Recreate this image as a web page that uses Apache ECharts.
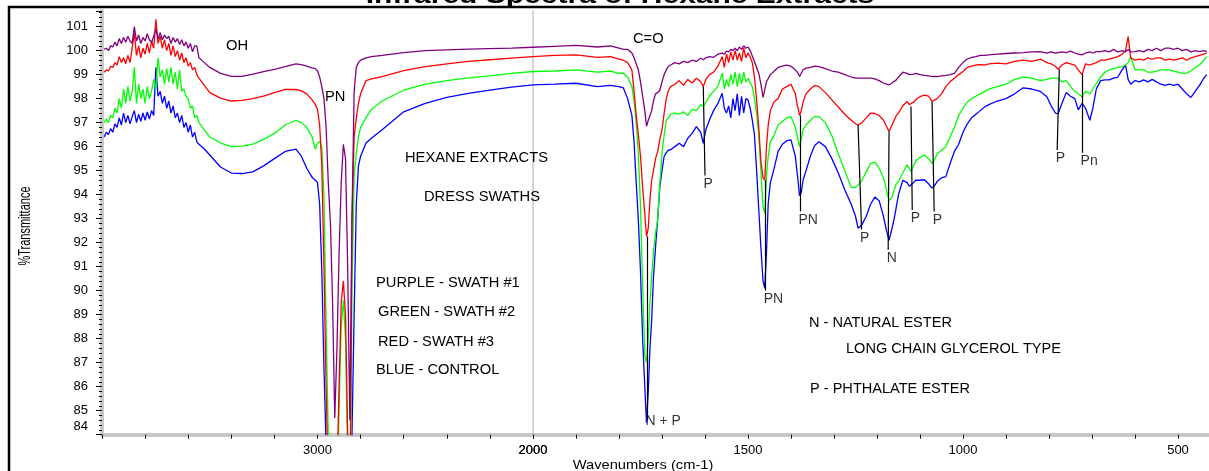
<!DOCTYPE html>
<html><head><meta charset="utf-8">
<script src="https://cdn.jsdelivr.net/npm/echarts@6/dist/echarts.min.js"></script>
<style>html,body{margin:0;padding:0;background:#fff}#c{width:1209px;height:471px}</style>
</head><body><div id="c"></div>
<script>
// ---------- DATA ----------
// Region A: noisy high-wavenumber end (cm-1)
const wnA = [3990,3980,3970,3960,3950,3940,3930,3920,3910,3900,
  3890,3880,3870,3860,3850,3840,3830,3820,3810,3800,
  3790,3780,3770,3760,3750,3740,3730,3720,3710,3700,
  3690,3680,3670,3660,3650,3640,3630,3620,3610,3600,
  3590,3580,3570,3560];
const purpleA = [100.05,100.1,100.0,100.2,100.15,100.35,100.2,100.5,100.3,100.55,
  100.35,100.6,100.4,100.3,101.0,100.4,100.65,100.3,100.55,100.4,
  100.7,100.45,100.35,100.6,100.9,100.5,100.75,100.45,100.65,100.5,
  100.6,100.3,100.55,100.35,100.5,100.25,100.45,100.2,100.35,100.1,
  100.3,99.95,100.2,100.2];
const redA = [99.1,99.2,99.15,99.35,99.3,99.5,99.4,99.75,99.5,99.7,
  99.45,99.8,99.5,100.1,100.75,99.8,100.2,99.7,100.1,99.85,
  100.3,99.9,100.4,100.1,101.3,100.3,100.6,100.1,100.45,100.0,
  100.3,99.8,100.2,99.75,100.0,99.6,99.9,99.5,99.7,99.35,
  99.5,99.2,99.3,99.0];
const greenA = [97.0,97.15,97.0,97.3,97.2,97.6,97.4,98.0,97.6,98.4,
  97.8,98.5,97.9,98.3,99.3,97.8,98.6,98.0,98.4,97.8,
  98.5,98.0,98.3,98.8,98.4,99.7,98.9,99.2,98.6,99.25,
  98.7,99.3,98.6,99.1,98.4,99.2,98.3,98.4,98.1,98.0,
  97.6,97.7,97.2,97.3];
const blueA = [96.4,96.6,96.5,96.75,96.6,96.95,96.8,97.2,96.9,97.4,
  97.0,97.3,96.95,97.25,97.5,97.0,97.35,97.05,97.4,97.1,
  97.45,97.15,97.5,97.3,99.3,98.1,98.3,97.8,98.1,97.6,
  97.9,97.4,97.7,97.2,97.4,97.0,97.3,96.8,97.0,96.6,
  96.9,96.4,96.6,96.2];

// Region B: OH band, C-H stretches, down to 2000 cm-1
const wnB = [3550,3525,3500,3450,3400,3350,3300,3250,3200,3150,
  3100,3075,3050,3025,3010,3000,2990,2980,2970,2960,
  2950,2940,2930,2920,2910,2900,2890,2880,2870,2860,
  2850,2840,2830,2820,2810,2800,2775,2750,2700,2600,
  2500,2400,2300,2200,2100,2000];
const purpleB = [99.7,99.5,99.3,99.05,98.93,98.93,99.02,99.12,99.22,99.33,
  99.45,99.42,99.35,99.28,99.25,99.15,98.9,98.5,98.0,96.8,
  94.5,92.8,89.5,84.7,87.5,91.5,94.5,96.1,95.5,91.0,
  84.6,93.0,98.3,99.3,99.5,99.6,99.7,99.75,99.8,99.92,
  100.0,100.03,100.06,100.08,100.1,100.14];
const redB = [98.85,98.55,98.25,98.02,97.9,97.93,98.0,98.1,98.25,98.38,
  98.38,98.32,98.2,97.95,97.75,97.55,96.9,95.2,91.0,86.0,
  82.0,80,80,80,82,86,89.5,90.4,89,84,
  80,93.0,96.4,97.2,97.8,98.2,98.75,98.82,98.92,99.17,
  99.33,99.45,99.55,99.62,99.69,99.75];
const greenB = [97.0,96.7,96.4,96.15,96.0,96.02,96.1,96.3,96.55,96.9,
  97.1,97.0,96.8,96.4,95.9,96.15,96.2,96.0,93.8,88.5,
  84.0,81.0,80,80,81,85,88.5,89.6,88,83,
  80,90.0,94.8,95.7,96.4,96.8,97.2,97.55,97.9,98.35,
  98.6,98.75,98.86,98.95,99.05,99.13];
const blueB = [96.1,95.9,95.65,95.15,94.9,94.88,94.95,95.2,95.5,95.8,
  95.9,95.6,95.1,94.72,94.6,94.5,93.6,90.8,86.8,83.5,
  81.0,80,80,80,80,80,80,81,80,80,
  80,84.0,89.0,93.6,95.2,95.6,96.15,96.35,96.7,97.45,
  97.8,98.05,98.22,98.35,98.48,98.57];

// Region C: 2000 cm-1 down to the low end (expanded scale)
const wnC = [2000,1950,1900,1850,1820,1800,1790,1780,1770,1765,
  1760,1755,1750,1745,1740,1736,1732,1728,1724,1720,
  1715,1710,1705,1700,1695,1690,1685,1680,1670,1660,
  1650,1640,1630,1620,1610,1604,1598,1590,1580,1570,
  1560,1555,1550,1545,1540,1535,1530,1525,1520,1515,
  1510,1505,1500,1495,1490,1485,1480,1475,1470,1465,
  1461,1457,1453,1448,1440,1430,1420,1410,1400,1390,
  1385,1380,1376,1372,1365,1355,1345,1335,1320,1305,
  1290,1275,1260,1250,1244,1235,1225,1215,1205,1195,
  1185,1178,1172,1165,1160,1155,1150,1140,1130,1125,
  1121,1115,1110,1100,1090,1080,1072,1065,1060,1050,
  1040,1030,1020,1010,1000,990,980,970,960,950,
  940,920,900,880,860,840,820,805,795,785,
  779,770,760,750,740,732,723,715,705,698,
  690,680,670,660,650,640,630,622,616,610,
  600,590,580,570,560,550,540,530,520,510,
  500,490,480,470,460,450,440,433];
const purpleC = [100.14,100.18,100.22,100.15,100.2,100.1,100.05,100.05,99.9,99.7,
  99.45,99.2,98.7,98.1,97.5,96.85,97.1,97.3,97.5,97.9,
  98.2,98.25,98.35,98.7,99.0,99.2,99.35,99.4,99.5,99.45,
  99.55,99.5,99.6,99.55,99.68,99.62,99.7,99.75,99.72,99.85,
  99.9,99.85,99.98,99.95,100.05,100.0,100.1,100.0,100.15,100.05,
  100.2,100.1,100.15,100.0,99.78,99.55,99.3,99.05,98.6,98.05,
  98.0,98.7,98.75,99.0,99.13,99.3,99.35,99.4,99.35,99.2,
  99.1,98.92,99.0,99.2,99.27,99.3,99.35,99.33,99.25,99.15,
  99.1,99.0,98.9,98.85,98.85,98.85,98.85,98.85,98.82,98.75,
  98.65,98.6,98.57,98.65,98.72,98.78,98.9,99.1,99.05,99.0,
  99.0,99.02,99.05,99.0,98.97,98.95,98.92,98.93,98.92,98.95,
  98.97,99.0,99.05,99.3,99.5,99.65,99.72,99.75,99.8,99.8,
  99.82,99.85,99.88,99.9,99.92,99.95,99.96,99.9,99.95,99.9,
  99.92,99.95,99.92,99.98,99.9,99.85,99.82,99.9,99.95,99.9,
  99.96,99.96,100.0,99.95,100.05,99.95,100.0,99.95,100.05,99.95,
  99.96,100.0,99.95,100.05,100.0,100.1,100.0,100.1,100.1,100.05,
  100.1,100.0,100.05,99.95,100.0,99.96,100.0,99.96];
const redC = [99.75,99.8,99.82,99.72,99.75,99.65,99.6,99.5,99.2,98.3,
  97.3,96.5,95.6,94.3,93.2,92.25,92.6,93.8,94.6,95.0,
  95.5,95.8,96.3,96.7,97.4,98.0,98.35,98.5,98.6,98.75,
  98.55,98.8,98.65,98.85,98.7,98.5,98.8,99.0,99.1,99.35,
  99.75,99.3,99.85,99.5,99.95,99.6,100.0,99.6,99.9,99.55,
  100.1,99.7,99.9,99.75,99.5,98.9,97.95,96.8,95.4,94.7,
  94.6,96.0,96.9,97.5,97.85,98.0,98.4,98.5,98.6,98.2,
  97.7,97.3,97.5,97.85,98.2,98.4,98.55,98.5,98.25,97.95,
  97.65,97.35,97.1,96.95,96.9,97.0,97.2,97.4,97.38,97.3,
  97.1,96.85,96.63,96.9,97.1,97.3,97.4,97.7,97.88,97.75,
  97.67,97.85,97.95,98.08,98.15,98.1,97.88,97.95,98.0,98.2,
  98.5,98.7,98.85,99.0,99.13,99.3,99.35,99.4,99.42,99.4,
  99.45,99.48,99.45,99.55,99.6,99.55,99.65,99.5,99.45,99.35,
  99.22,99.4,99.5,99.45,99.4,99.2,99.0,99.45,99.4,99.45,
  99.5,99.6,99.6,99.65,99.7,99.75,99.85,100.0,100.58,99.7,
  99.6,99.65,99.6,99.7,99.64,99.7,99.7,99.6,99.65,99.6,
  99.65,99.7,99.6,99.7,99.75,99.8,99.85,99.9];
const greenC = [99.13,99.15,99.2,99.1,99.15,99.05,99.06,98.9,98.5,97.9,
  97.0,95.72,93.5,90.2,87.3,87.0,88.0,89.5,90.6,91.58,
  92.4,92.95,94.5,95.72,96.5,97.1,97.2,97.35,97.4,97.35,
  97.45,97.3,97.55,97.5,97.75,97.67,97.85,98.1,98.3,98.5,
  99.06,98.4,98.8,98.5,99.0,98.6,99.1,98.5,99.06,98.6,
  99.1,98.7,98.85,98.65,98.5,98.0,97.4,96.5,95.0,93.5,
  93.22,94.8,95.6,96.2,96.45,96.9,97.05,97.2,97.25,96.8,
  96.4,96.0,96.3,96.7,96.9,97.1,97.25,97.25,97.0,96.45,
  95.7,95.0,94.3,94.3,94.4,94.6,94.95,95.3,95.35,95.1,
  94.7,94.2,93.75,93.9,94.2,94.45,94.55,94.9,95.24,95.1,
  94.96,95.2,95.4,95.55,95.65,95.5,95.3,95.5,95.7,95.85,
  96.0,96.4,96.8,97.3,97.6,97.85,98.0,98.1,98.2,98.3,
  98.4,98.5,98.6,98.8,98.9,98.85,98.75,98.8,98.85,98.85,
  98.85,98.7,98.75,98.5,98.3,98.2,98.08,98.3,98.2,98.4,
  98.64,98.9,99.1,99.2,99.25,99.3,99.33,99.4,99.5,99.75,
  99.2,99.2,99.2,99.1,99.1,99.15,99.2,99.2,99.2,99.15,
  99.1,99.05,99.06,99.15,99.3,99.4,99.6,99.75];
const blueC = [98.57,98.6,98.64,98.5,98.55,98.5,98.45,98.0,97.3,96.2,
  94.5,92.95,90.8,88.0,86.0,84.5,85.8,87.6,88.78,90.5,
  91.83,93.0,94.33,95.0,95.6,95.75,95.85,95.87,96.0,96.14,
  96.0,96.35,96.55,96.83,96.6,96.14,96.7,97.1,97.5,97.8,
  98.22,97.6,97.4,97.7,97.2,98.0,97.5,98.2,97.3,98.1,
  97.4,98.0,97.95,97.6,97.1,96.5,95.0,93.4,91.8,90.4,
  90.1,91.6,93.64,94.5,95.03,95.8,96.1,96.25,96.28,95.6,
  94.8,93.95,94.1,94.6,95.0,95.6,96.05,96.2,96.0,95.5,
  94.9,94.2,93.6,93.1,92.6,92.75,93.1,93.6,93.9,93.75,
  93.1,92.5,92.1,92.6,93.0,93.5,94.0,94.6,94.5,94.35,
  94.27,94.5,94.6,94.6,94.62,94.45,94.27,94.4,94.55,94.7,
  94.75,95.3,95.8,96.1,96.6,96.95,97.2,97.35,97.5,97.65,
  97.75,97.9,98.0,98.2,98.45,98.4,98.3,98.08,97.7,97.4,
  97.36,97.8,98.25,98.1,98.0,97.53,97.8,97.6,97.1,97.6,
  98.4,98.75,98.78,98.78,98.85,98.9,99.2,99.4,98.8,98.6,
  98.75,98.7,98.78,98.7,98.8,98.7,98.6,98.55,98.6,98.55,
  98.6,98.4,98.2,98.05,98.3,98.55,98.85,99.0];

// Band assignment pointers: from a point on the spectrum down to the label
const peakNotes = [
  {text:'N + P', wnTop:1735, top:92.25, wnEnd:1735, end:84.6},
  {text:'P',  wnTop:1604, top:98.5,  wnEnd:1600, end:94.8},
  {text:'PN', wnTop:1461, top:94.6,  wnEnd:1460, end:90.0},
  {text:'PN', wnTop:1379, top:97.3,  wnEnd:1379, end:93.3},
  {text:'P',  wnTop:1244, top:96.9,  wnEnd:1236, end:92.55},
  {text:'N',  wnTop:1172, top:96.63, wnEnd:1174, end:91.7},
  {text:'P',  wnTop:1121, top:97.67, wnEnd:1118, end:93.36},
  {text:'P',  wnTop:1072, top:97.88, wnEnd:1067, end:93.3},
  {text:'P',  wnTop:776,  top:99.22, wnEnd:781,  end:95.86},
  {text:'Pn', wnTop:723,  top:99.0,  wnEnd:723,  end:95.74}
];
const yTicks = {min:84, max:101.65, step:1};
const xLeft = {min:2000, max:4000, step:200, labels:[3000,2000]};
const xRight = {min:400, max:2000, step:100, labels:[2000,1500,1000,500]};

// ---------- CHART ----------
const FONT = '"Liberation Sans", Arial, Helvetica, sans-serif';
const GRAY = '#c8c8c8';
const zip = (xs, ys) => xs.map((x, i) => [x, ys[i]]);
const leftWn = wnA.concat(wnB);
const spectra = [
  {color:'#0000ff', left: blueA.concat(blueB),   right: blueC},
  {color:'#00ff00', left: greenA.concat(greenB), right: greenC},
  {color:'#ff0000', left: redA.concat(redB),     right: redC},
  {color:'#800080', left: purpleA.concat(purpleB), right: purpleC}
];
const series = [];
spectra.forEach(s => {
  const base = {type:'line', symbol:'none', showSymbol:false, silent:true, animation:false, clip:true,
    lineStyle:{color:s.color, width:1.3}, itemStyle:{color:s.color}};
  series.push(Object.assign({}, base, {xAxisIndex:0, yAxisIndex:0, data: zip(leftWn, s.left)}));
  series.push(Object.assign({}, base, {xAxisIndex:1, yAxisIndex:1, data: zip(wnC, s.right)}));
});
series.push({
  type:'scatter', xAxisIndex:1, yAxisIndex:1, symbolSize:1, silent:true, animation:false,
  itemStyle:{color:'rgba(0,0,0,0)'},
  data: peakNotes.map(a => ({value:[a.wnEnd, a.end], label:{formatter:a.text,
    position:[ -1, a.text === 'N + P' ? -6 : 2]}})),
  label:{show:true, align:'left', verticalAlign:'top', color:'#000', fontSize:14, fontFamily:FONT},
  markLine:{symbol:['none','none'], silent:true, animation:false, label:{show:false},
    lineStyle:{color:'#000', width:1.2, type:'solid'},
    data: peakNotes.map(a => [{coord:[a.wnTop, a.top]}, {coord:[a.wnEnd, a.end]}])}
});

const yAxisBase = {type:'value', min:yTicks.min, max:yTicks.max, interval:yTicks.step,
  splitLine:{show:false}};
const axisLineStyle = {show:true, lineStyle:{color:GRAY, width:4}};
const txt = (text, x, y, size, extra) => Object.assign({type:'text', x:x, y:y, z:50, silent:true,
  style:{text:text, fill:'#000', fontSize:size, fontFamily:FONT, align:'left', verticalAlign:'middle',
    textAlign:'left', textVerticalAlign:'middle'}}, extra || {});

const option = {
  animation:false,
  backgroundColor:'#fff',
  grid:[
    {left:102, width:431, top:11, bottom:36.3, outerBoundsMode:'none', containLabel:false},
    {left:533, right:-12, top:11, bottom:36.3, outerBoundsMode:'none', containLabel:false}
  ],
  xAxis:[
    {type:'value', gridIndex:0, min:xLeft.min, max:xLeft.max, interval:xLeft.step, inverse:true,
      axisLine:axisLineStyle, splitLine:{show:false},
      axisTick:{show:true, length:4, lineStyle:{color:'#000'}},
      axisLabel:{show:true, margin:9, fontSize:13, fontFamily:FONT, color:'#000',
        formatter: v => xLeft.labels.indexOf(v) >= 0 ? String(v) : ''}},
    {type:'value', gridIndex:1, min:xRight.min, max:xRight.max, interval:xRight.step, inverse:true,
      axisLine:axisLineStyle, splitLine:{show:false},
      axisTick:{show:true, length:4, lineStyle:{color:'#000'}},
      axisLabel:{show:true, margin:9, fontSize:13, fontFamily:FONT, color:'#000',
        formatter: v => xRight.labels.indexOf(v) >= 0 ? String(v) : ''}}
  ],
  yAxis:[
    Object.assign({}, yAxisBase, {gridIndex:0, axisLine:axisLineStyle,
      axisTick:{show:true, length:6, lineStyle:{color:'#000'}},
      minorTick:{show:true, splitNumber:5, length:3, lineStyle:{color:'#000'}},
      axisLabel:{show:true, margin:14, fontSize:13, fontFamily:FONT, color:'#000', showMaxLabel:false,
        formatter: v => v === yTicks.min ? '{lo|' + v + '}' : String(v),
        rich:{lo:{fontSize:13, fontFamily:FONT, color:'#000', padding:[0,0,16,0]}}}}),
    Object.assign({}, yAxisBase, {gridIndex:1,
      axisLine:{show:true, lineStyle:{color:GRAY, width:1.5}},
      axisTick:{show:false}, axisLabel:{show:false}})
  ],
  series: series,
  graphic:[
    {type:'text', x:620, y:8, z:40, silent:true, scaleX:1.25,
      style:{text:'Infrared Spectra of Hexane Extracts', fill:'#000', fontSize:24, fontWeight:'bold',
        fontFamily:FONT, align:'center', verticalAlign:'bottom', textAlign:'center', textVerticalAlign:'bottom'}},
    {type:'rect', z:60, silent:true, shape:{x:9, y:7, width:1400, height:700},
      style:{fill:'none', stroke:'#000', lineWidth:2.5}},
    txt('OH', 226, 46.5, 14, {scaleX:1.05}),
    txt('C=O', 633, 39.5, 14, {scaleX:1.05}),
    txt('PN', 325, 97.5, 14, {scaleX:1.05}),
    txt('HEXANE EXTRACTS', 405, 158.5, 14, {scaleX:1.05}),
    txt('DRESS SWATHS', 424, 197.5, 14, {scaleX:1.05}),
    txt('PURPLE - SWATH #1', 376, 283, 14, {scaleX:1.05}),
    txt('GREEN - SWATH #2', 378, 312.5, 14, {scaleX:1.05}),
    txt('RED - SWATH #3', 378, 342.5, 14, {scaleX:1.05}),
    txt('BLUE - CONTROL', 376, 370.5, 14, {scaleX:1.05}),
    txt('N - NATURAL ESTER', 809, 323, 14, {scaleX:1.04}),
    txt('LONG CHAIN GLYCEROL TYPE', 846, 349, 14, {scaleX:1.04}),
    txt('P - PHTHALATE ESTER', 810, 389, 14, {scaleX:1.04}),
    {type:'text', x:643, y:465, z:50, silent:true, scaleX:1.13,
      style:{text:'Wavenumbers (cm-1)', fill:'#000', fontSize:13, fontFamily:FONT,
        align:'center', verticalAlign:'middle', textAlign:'center', textVerticalAlign:'middle'}},
    {type:'text', x:25.5, y:226, z:50, silent:true, rotation:Math.PI/2, scaleY:1.5,
      style:{text:'%Transmittance', fill:'#000', fontSize:11, fontFamily:FONT,
        align:'center', verticalAlign:'middle', textAlign:'center', textVerticalAlign:'middle'}}
  ]
};
const chart = echarts.init(document.getElementById('c'), null, {renderer:'canvas'});
chart.setOption(option);
</script>
</body></html>
